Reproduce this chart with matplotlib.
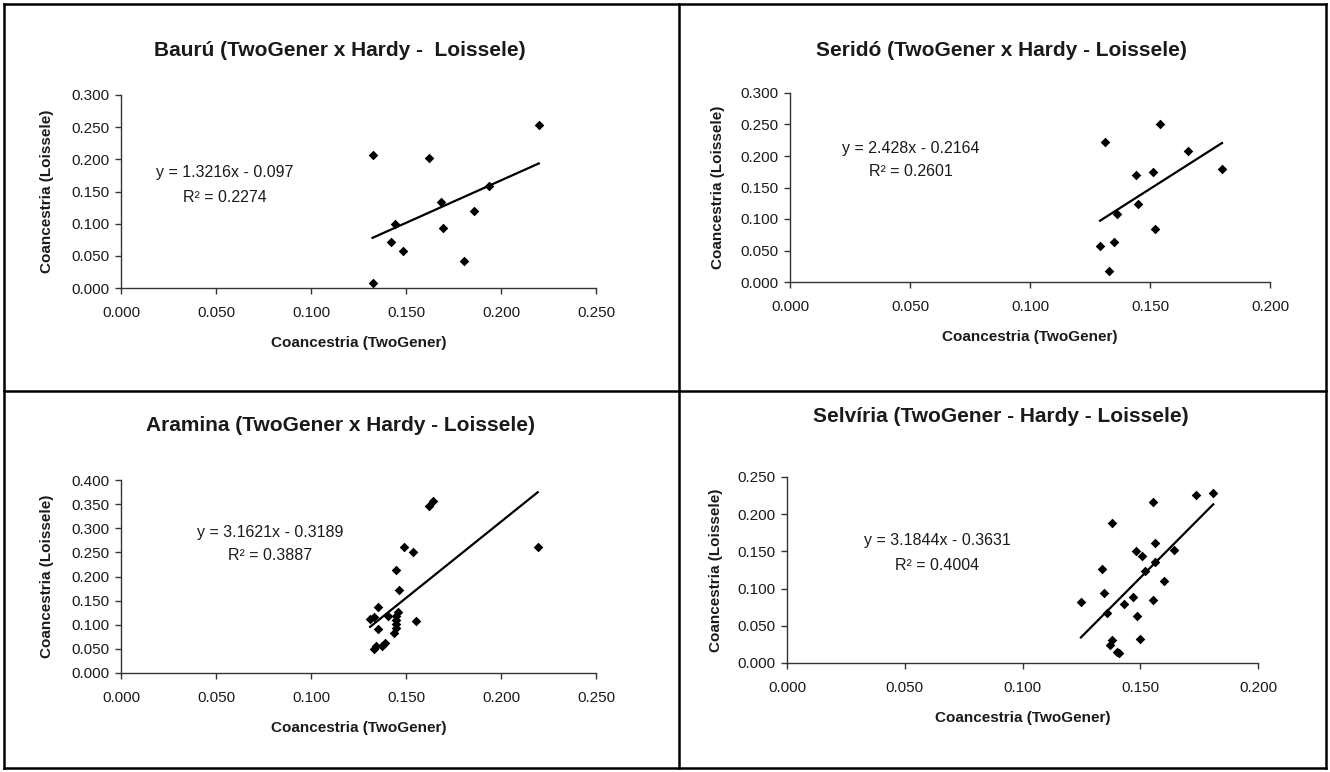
import numpy as np
import matplotlib.pyplot as plt
from matplotlib.lines import Line2D
from matplotlib.ticker import MultipleLocator, FormatStrFormatter

plt.rcParams['font.family'] = ['Liberation Sans', 'DejaVu Sans']

W, H = 1330, 772

# data
bauru_x = [0.1324, 0.1623, 0.2199, 0.1937, 0.1683, 0.1857, 0.1442, 0.1697, 0.1423, 0.1484, 0.1806, 0.1324]
bauru_y = [0.2064, 0.2022, 0.2529, 0.1583, 0.1340, 0.1195, 0.0998, 0.0931, 0.0709, 0.0569, 0.0424, 0.0072]

serido_x = [0.1313, 0.1542, 0.1660, 0.1441, 0.1511, 0.1452, 0.1362, 0.1521, 0.1352, 0.1292, 0.1328, 0.1800]
serido_y = [0.2229, 0.2511, 0.2086, 0.1699, 0.1741, 0.1231, 0.1072, 0.0844, 0.0642, 0.0579, 0.0175, 0.1800]

aramina_x = [0.1620, 0.1640, 0.2193, 0.1491, 0.1538, 0.1445, 0.1461, 0.1352, 0.1311, 0.1333, 0.1404, 0.1460,
             0.1445, 0.1445, 0.1445, 0.1445, 0.1438, 0.1554, 0.1352, 0.1331, 0.1340, 0.1373, 0.1392]
aramina_y = [0.346, 0.357, 0.262, 0.262, 0.251, 0.214, 0.172, 0.136, 0.111, 0.117, 0.119, 0.127,
             0.119, 0.110, 0.102, 0.094, 0.083, 0.108, 0.092, 0.049, 0.055, 0.055, 0.062]

selviria_x = [0.1738, 0.1810, 0.1553, 0.1380, 0.1561, 0.1642, 0.1481, 0.1509, 0.1561, 0.1519, 0.1338, 0.1600,
              0.1348, 0.1471, 0.1248, 0.1429, 0.1553, 0.1359, 0.1487, 0.1497, 0.1380, 0.1370, 0.1400, 0.1410]
selviria_y = [0.2263, 0.2290, 0.2165, 0.1888, 0.1607, 0.1518, 0.1504, 0.1433, 0.1353, 0.1237, 0.1268, 0.1098,
              0.0946, 0.0893, 0.0826, 0.0795, 0.0844, 0.0670, 0.0638, 0.0321, 0.0308, 0.0237, 0.0147, 0.0134]

titles = ['Baurú (TwoGener x Hardy -  Loissele)', 'Seridó (TwoGener x Hardy - Loissele)',
          'Aramina (TwoGener x Hardy - Loissele)', 'Selvíria (TwoGener - Hardy - Loissele)']
equations = ['y = 1.3216x - 0.097', 'y = 2.428x - 0.2164', 'y = 3.1621x - 0.3189', 'y = 3.1844x - 0.3631']
r2_texts = ['R² = 0.2274', 'R² = 0.2601', 'R² = 0.3887', 'R² = 0.4004']
slopes = [1.3216, 2.428, 3.1621, 3.1844]
intercepts = [-0.097, -0.2164, -0.3189, -0.3631]
xmax = [0.25, 0.20, 0.25, 0.20]
ymax = [0.30, 0.30, 0.40, 0.25]

xs = [bauru_x, serido_x, aramina_x, selviria_x]
ys = [bauru_y, serido_y, aramina_y, selviria_y]

# layout in pixels: plot box (left, top, right, bottom), title pos, equation pos, label pos
boxes = [(121, 95, 596, 288), (790, 93, 1270, 282), (121, 480, 596, 673), (787, 477, 1258, 663)]
title_pos = [(340, 50), (1001, 50), (340, 426), (1001, 417)]
eq_pos = [(225, 173), (911, 148), (270, 532), (937, 541)]
ylab_x = [47, 718, 47, 716]
xlab_dy = 55


def fx(x):
    return x / W


def fy(y):
    return 1 - y / H


fig = plt.figure(figsize=(W / 100, H / 100), dpi=100)

for i in range(4):
    l, t, r, b = boxes[i]
    ax = fig.add_axes([fx(l), fy(b), (r - l) / W, (b - t) / H])
    ax.scatter(xs[i], ys[i], marker='D', s=24, color='black', linewidths=0, zorder=3)
    x0, x1 = min(xs[i]), max(xs[i])
    ax.plot([x0, x1], [slopes[i] * x0 + intercepts[i], slopes[i] * x1 + intercepts[i]],
            color='black', lw=1.6, zorder=2)
    ax.set_xlim(0, xmax[i])
    ax.set_ylim(0, ymax[i])
    ax.xaxis.set_major_locator(MultipleLocator(0.05))
    ax.yaxis.set_major_locator(MultipleLocator(0.05))
    ax.xaxis.set_major_formatter(FormatStrFormatter('%.3f'))
    ax.yaxis.set_major_formatter(FormatStrFormatter('%.3f'))
    for side in ['top', 'right']:
        ax.spines[side].set_visible(False)
    for side in ['left', 'bottom']:
        ax.spines[side].set_color('#333333')
        ax.spines[side].set_linewidth(1.0)
    ax.tick_params(direction='out', length=4, width=1.0, color='#333333',
                   labelsize=11, labelcolor='#1a1a1a', pad=4)
    ax.tick_params(axis='x', pad=9)
    ax.patch.set_alpha(0)

    fig.text(fx(title_pos[i][0]), fy(title_pos[i][1]), titles[i], ha='center', va='center',
             fontsize=15, fontweight='bold', color='#1a1a1a')
    fig.text(fx(eq_pos[i][0]), fy(eq_pos[i][1]), equations[i], ha='center', va='center',
             fontsize=11.5, color='#1a1a1a')
    fig.text(fx(eq_pos[i][0]), fy(eq_pos[i][1] + 24), r2_texts[i], ha='center', va='center',
             fontsize=11.5, color='#1a1a1a')
    fig.text(fx((l + r) / 2), fy(b + xlab_dy), 'Coancestria (TwoGener)', ha='center', va='center',
             fontsize=11, fontweight='bold', color='#1a1a1a')
    fig.text(fx(ylab_x[i]), fy((t + b) / 2), 'Coancestria (Loissele)', ha='center', va='center',
             rotation=90, fontsize=11, fontweight='bold', color='#1a1a1a')

# panel borders
border = dict(color='black', lw=1.8)
for xa, ya, xb, yb in [(4, 4, 1326, 4), (4, 768, 1326, 768), (4, 4, 4, 768), (1326, 4, 1326, 768),
                       (679, 4, 679, 768), (4, 391, 1326, 391)]:
    fig.add_artist(Line2D([fx(xa), fx(xb)], [fy(ya), fy(yb)], **border))

fig.savefig('out.png', dpi=100)
